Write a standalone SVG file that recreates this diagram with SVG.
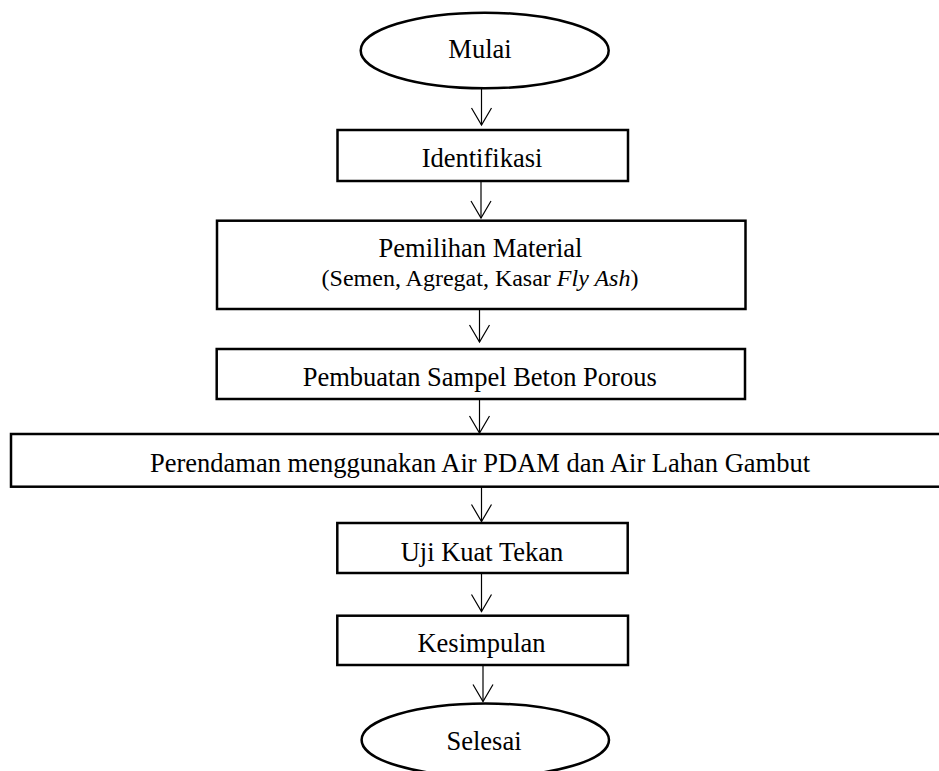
<svg xmlns="http://www.w3.org/2000/svg" width="939" height="771" viewBox="0 0 939 771">
  <style>
    .shape { fill: #ffffff; stroke: #000000; stroke-width: 2.5; }
    .lbl { font-family: "Liberation Serif", "Times New Roman", serif; font-size: 26.5px; fill: #000000; text-anchor: middle; }
    .sub { font-size: 24px; }
    .conn { stroke: #000000; stroke-width: 1.2; fill: none; marker-end: url(#arr); }
  </style>
  <defs>
    <marker id="arr" markerUnits="userSpaceOnUse" markerWidth="24" markerHeight="24" refX="0" refY="0" viewBox="-20 -12 22 24" orient="auto" overflow="visible">
      <path d="M-17,-10 L0,0 L-17,10" fill="none" stroke="#000000" stroke-width="1.2"/>
    </marker>
  </defs>
  <rect width="939" height="771" fill="#ffffff"/>

  <g id="connectors">
    <line class="conn" x1="481.5" y1="89" x2="481.5" y2="125"/>
    <line class="conn" x1="481" y1="181" x2="481" y2="218"/>
    <line class="conn" x1="479.5" y1="309" x2="479.5" y2="342"/>
    <line class="conn" x1="479.5" y1="399" x2="479.5" y2="433"/>
    <line class="conn" x1="481.5" y1="487" x2="481.5" y2="521.5"/>
    <line class="conn" x1="481.5" y1="573" x2="481.5" y2="611.5"/>
    <line class="conn" x1="483" y1="665" x2="483" y2="701.5"/>
  </g>

  <g id="mulai">
    <ellipse class="shape" cx="484.7" cy="50.5" rx="124" ry="37.8"/>
    <text class="lbl" x="480" y="58.3">Mulai</text>
  </g>

  <g id="identifikasi">
    <rect class="shape" x="337.5" y="130" width="290.5" height="51"/>
    <text class="lbl" x="482" y="167">Identifikasi</text>
  </g>

  <g id="pemilihan">
    <rect class="shape" x="217" y="220.7" width="528.5" height="88.3"/>
    <text class="lbl" x="480.5" y="257">Pemilihan Material</text>
    <text class="lbl sub" x="480" y="286">(Semen, Agregat, Kasar <tspan font-style="italic">Fly Ash</tspan>)</text>
  </g>

  <g id="pembuatan">
    <rect class="shape" x="216.7" y="349" width="528.3" height="50"/>
    <text class="lbl" x="479.7" y="386">Pembuatan Sampel Beton Porous</text>
  </g>

  <g id="perendaman">
    <rect class="shape" x="11" y="434" width="940" height="52.7"/>
    <text class="lbl" x="480" y="471.7">Perendaman menggunakan Air PDAM dan Air Lahan Gambut</text>
  </g>

  <g id="uji">
    <rect class="shape" x="337.3" y="523" width="290.4" height="50"/>
    <text class="lbl" x="482" y="560.7">Uji Kuat Tekan</text>
  </g>

  <g id="kesimpulan">
    <rect class="shape" x="337.3" y="615.7" width="290.7" height="49.3"/>
    <text class="lbl" x="481.5" y="651.7">Kesimpulan</text>
  </g>

  <g id="selesai">
    <ellipse class="shape" cx="485.3" cy="740" rx="123.7" ry="36.5"/>
    <text class="lbl" x="484" y="750">Selesai</text>
  </g>
</svg>
